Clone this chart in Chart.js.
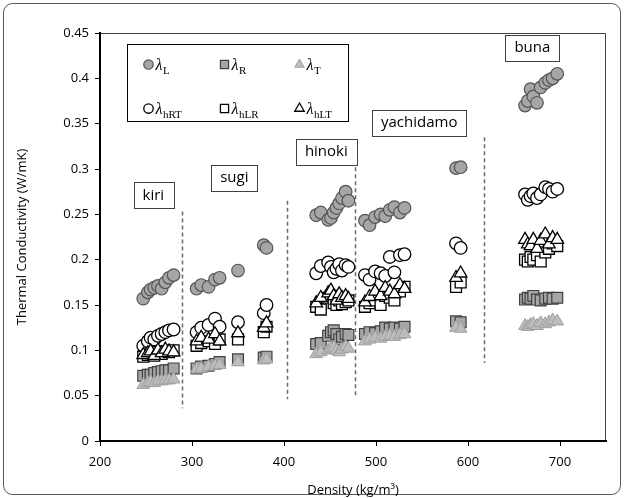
<!DOCTYPE html>
<html>
<head>
<meta charset="utf-8">
<script src="https://cdn.jsdelivr.net/npm/chart.js@4"></script>
<style>
  html, body { margin: 0; padding: 0; background: #fff; }
  canvas { display: block; }
</style>
</head>
<body>
<canvas id="c" width="624" height="498"></canvas>
<script>
// ---------- data (densities shared by each specimen) ----------
// order of specimens: kiri(9), sugi(8), hinoki(10), yachidamo(11), buna(10)
const density = [
  247, 252, 255, 259, 263, 267, 271, 275, 280,
  305, 310, 318, 325, 330, 350, 378, 381,
  435, 440, 448, 451, 454, 457, 460, 463, 467, 470,
  488, 493, 499, 505, 510, 515, 520, 526, 531, 587, 592,
  662, 665, 668, 671, 675, 679, 684, 688, 692, 697
];
const lambdaL = [
  0.157, 0.164, 0.167, 0.169, 0.171, 0.168, 0.175, 0.180, 0.183,
  0.168, 0.172, 0.170, 0.178, 0.180, 0.188, 0.216, 0.213,
  0.249, 0.252, 0.244, 0.246, 0.252, 0.257, 0.262, 0.268, 0.275, 0.265,
  0.243, 0.238, 0.247, 0.250, 0.248, 0.255, 0.258, 0.252, 0.257, 0.301, 0.302,
  0.370, 0.375, 0.388, 0.380, 0.373, 0.390, 0.395, 0.398, 0.400, 0.405
];
const lambdaR = [
  0.072, 0.073, 0.073, 0.075, 0.076, 0.077, 0.078, 0.078, 0.080,
  0.080, 0.082, 0.083, 0.085, 0.087, 0.090, 0.092, 0.093,
  0.107, 0.108, 0.116, 0.120, 0.122, 0.118, 0.112, 0.115, 0.118, 0.117,
  0.118, 0.120, 0.119, 0.121, 0.125, 0.124, 0.125, 0.124, 0.126, 0.132, 0.131,
  0.156, 0.158, 0.157, 0.160, 0.156, 0.155, 0.157, 0.158, 0.157, 0.158
];
const lambdaT = [
  0.062, 0.064, 0.065, 0.064, 0.066, 0.066, 0.067, 0.067, 0.068,
  0.079, 0.080, 0.082, 0.083, 0.084, 0.087, 0.089, 0.090,
  0.096, 0.098, 0.100, 0.102, 0.103, 0.100, 0.098, 0.101, 0.104, 0.102,
  0.110, 0.112, 0.114, 0.113, 0.115, 0.116, 0.115, 0.117, 0.118, 0.125, 0.124,
  0.127, 0.126, 0.128, 0.129, 0.127, 0.130, 0.129, 0.131, 0.133, 0.132
];
const lambdaHRT = [
  0.105, 0.110, 0.114, 0.112, 0.116, 0.118, 0.120, 0.122, 0.123,
  0.120, 0.125, 0.128, 0.135, 0.126, 0.131, 0.141, 0.150,
  0.185, 0.193, 0.197, 0.192, 0.186, 0.190, 0.195, 0.188, 0.194, 0.192,
  0.183, 0.178, 0.187, 0.185, 0.182, 0.203, 0.186, 0.205, 0.206, 0.218, 0.213,
  0.272, 0.266, 0.270, 0.273, 0.268, 0.272, 0.280, 0.278, 0.275, 0.278
];
const lambdaHLR = [
  0.093, 0.095, 0.097, 0.094, 0.098, 0.096, 0.099, 0.098, 0.100,
  0.105, 0.108, 0.110, 0.107, 0.112, 0.112, 0.120, 0.126,
  0.148, 0.145, 0.158, 0.160, 0.152, 0.150, 0.155, 0.151, 0.153, 0.155,
  0.148, 0.152, 0.155, 0.150, 0.160, 0.158, 0.155, 0.165, 0.170, 0.170, 0.175,
  0.200, 0.198, 0.203, 0.200, 0.205, 0.198, 0.208, 0.212, 0.218, 0.215
];
const lambdaHLT = [
  0.095, 0.097, 0.099, 0.094, 0.100, 0.097, 0.101, 0.099, 0.098,
  0.110, 0.114, 0.112, 0.118, 0.110, 0.119, 0.125, 0.130,
  0.152, 0.158, 0.163, 0.166, 0.160, 0.155, 0.162, 0.158, 0.160, 0.157,
  0.153, 0.159, 0.165, 0.160, 0.169, 0.165, 0.162, 0.172, 0.168, 0.180, 0.185,
  0.222, 0.217, 0.215, 0.222, 0.212, 0.221, 0.228, 0.217, 0.224, 0.222
];
const seriesSubscripts = ['L', 'R', 'T', 'hRT', 'hLR', 'hLT'];

const xTicks = [200, 300, 400, 500, 600, 700];
const yTicks = [0, 0.05, 0.1, 0.15, 0.2, 0.25, 0.3, 0.35, 0.4, 0.45];
const yTickLabels = ['0', '0.05', '0.1', '0.15', '0.2', '0.25', '0.3', '0.35', '0.4', '0.45'];

const woodNames = ['kiri', 'sugi', 'hinoki', 'yachidamo', 'buna'];
const woodLabelDensity = [258, 346, 446, 547, 670];
const woodLabelValue = [0.271, 0.290, 0.319, 0.351, 0.434];
const dividerDensity = [289, 403, 477, 617];
const dividerTop = [0.253, 0.265, 0.325, 0.335];
const dividerBottom = [0.036, 0.046, 0.049, 0.086];

// ---------- styles ----------
const seriesValues = [lambdaL, lambdaR, lambdaT, lambdaHRT, lambdaHLR, lambdaHLT];
const styles = [
  { shape: 'circle',   r: 6.3, fill: '#a6a6a6', stroke: '#555555', lw: 1.2 },
  { shape: 'rect',     r: 7.7, fill: '#a6a6a6', stroke: '#404040', lw: 1.2 },
  { shape: 'triangle', r: 7.3, fill: '#bdbdbd', stroke: '#a0a0a0', lw: 1.0 },
  { shape: 'circle',   r: 6.3, fill: '#ffffff', stroke: '#000000', lw: 1.3 },
  { shape: 'rect',     r: 7.7, fill: '#ffffff', stroke: '#000000', lw: 1.3 },
  { shape: 'triangle', r: 7.3, fill: '#ffffff', stroke: '#000000', lw: 1.3 }
];

const datasets = seriesValues.map((vals, i) => ({
  label: 'λ' + seriesSubscripts[i],
  data: vals.map((v, k) => ({ x: density[k], y: v })),
  pointStyle: styles[i].shape,
  pointRadius: styles[i].r,
  pointBackgroundColor: styles[i].fill,
  pointBorderColor: styles[i].stroke,
  pointBorderWidth: styles[i].lw,
  showLine: false,
  order: 10 - i
}));

const FONT = '"Open Sans", "Noto Sans", sans-serif';

function drawMarker(ctx, shape, x, y, r, fill, stroke, lw) {
  ctx.save();
  ctx.beginPath();
  if (shape === 'circle') {
    ctx.arc(x, y, r, 0, Math.PI * 2);
  } else if (shape === 'rect') {
    const s = r / Math.SQRT2;
    ctx.rect(x - s, y - s, 2 * s, 2 * s);
  } else {
    const h = r;
    ctx.moveTo(x, y - h);
    ctx.lineTo(x + h * Math.sin(Math.PI * 2 / 3), y - h * Math.cos(Math.PI * 2 / 3));
    ctx.lineTo(x + h * Math.sin(Math.PI * 4 / 3), y - h * Math.cos(Math.PI * 4 / 3));
    ctx.closePath();
  }
  ctx.fillStyle = fill; ctx.fill();
  ctx.lineWidth = lw; ctx.strokeStyle = stroke; ctx.stroke();
  ctx.restore();
}

const decor = {
  id: 'decor',
  beforeDraw(chart) {
    const ctx = chart.ctx;
    ctx.save();
    ctx.fillStyle = '#fff';
    ctx.fillRect(0, 0, chart.width, chart.height);
    ctx.beginPath();
    ctx.roundRect(3.5, 3.5, chart.width - 7, chart.height - 7, 9);
    ctx.strokeStyle = '#595959';
    ctx.lineWidth = 1;
    ctx.stroke();
    const a = chart.chartArea;
    ctx.beginPath();
    ctx.moveTo(a.left, a.top + 0.5);
    ctx.lineTo(a.right - 0.5, a.top + 0.5);
    ctx.lineTo(a.right - 0.5, a.bottom);
    ctx.strokeStyle = '#404040';
    ctx.lineWidth = 1;
    ctx.stroke();
    ctx.restore();
  },
  beforeDatasetsDraw(chart) {
    const ctx = chart.ctx, xs = chart.scales.x, ys = chart.scales.y;
    ctx.save();
    ctx.setLineDash([4, 3]);
    ctx.strokeStyle = '#6a6a6a';
    ctx.lineWidth = 1.5;
    dividerDensity.forEach((d, i) => {
      const x = Math.round(xs.getPixelForValue(d)) + 0.5;
      ctx.beginPath();
      ctx.moveTo(x, ys.getPixelForValue(dividerTop[i]));
      ctx.lineTo(x, ys.getPixelForValue(dividerBottom[i]));
      ctx.stroke();
    });
    ctx.restore();
  },
  afterDatasetsDraw(chart) {
    const ctx = chart.ctx, xs = chart.scales.x, ys = chart.scales.y, a = chart.chartArea;
    ctx.save();
    ctx.font = '15px ' + FONT;
    ctx.textAlign = 'center';
    ctx.textBaseline = 'middle';
    woodNames.forEach((name, i) => {
      const cx = xs.getPixelForValue(woodLabelDensity[i]);
      const cy = ys.getPixelForValue(woodLabelValue[i]);
      const w = ctx.measureText(name).width + 18;
      const h = 26;
      const x0 = Math.round(cx - w / 2) + 0.5, y0 = Math.round(cy - h / 2) + 0.5;
      ctx.fillStyle = '#fff';
      ctx.fillRect(x0, y0, Math.round(w), h);
      ctx.strokeStyle = '#404040';
      ctx.lineWidth = 1;
      ctx.strokeRect(x0, y0, Math.round(w), h);
      ctx.fillStyle = '#000';
      ctx.fillText(name, cx, cy);
    });
    const lx = a.left + 27.5, ly = a.top + 11.5, lw = 221, lh = 77;
    ctx.fillStyle = '#fff';
    ctx.fillRect(lx, ly, lw, lh);
    ctx.strokeStyle = '#000';
    ctx.lineWidth = 1;
    ctx.strokeRect(lx, ly, lw, lh);
    const colX = [lx + 21, lx + 97, lx + 172];
    const rowY = [ly + 20, ly + 64];
    for (let i = 0; i < 6; i++) {
      const c = i % 3, r = Math.floor(i / 3);
      const st = styles[i];
      drawMarker(ctx, st.shape, colX[c], rowY[r], st.r * 0.75, st.fill, st.stroke, st.lw);
      const tx = colX[c] + 7;
      ctx.fillStyle = '#000';
      ctx.textAlign = 'left';
      ctx.textBaseline = 'alphabetic';
      ctx.font = 'italic 16px "Liberation Serif", serif';
      ctx.fillText('λ', tx, rowY[r] + 5);
      const lamW = ctx.measureText('λ').width;
      ctx.font = '11px "Liberation Serif", serif';
      ctx.fillText(seriesSubscripts[i], tx + lamW + 0.5, rowY[r] + 9);
    }
    ctx.restore();
  }
};

new Chart(document.getElementById('c'), {
  type: 'scatter',
  data: { datasets },
  plugins: [decor],
  options: {
    responsive: false,
    animation: false,
    events: [],
    layout: { padding: { top: 33, right: 18, left: 0, bottom: 0 } },
    plugins: { legend: { display: false }, tooltip: { enabled: false } },
    scales: {
      x: {
        type: 'linear', min: 200, max: 750,
        afterBuildTicks: s => { s.ticks = xTicks.map(v => ({ value: v })); },
        afterFit: s => { s.height = 57; },
        grid: { drawOnChartArea: false, drawTicks: true, tickLength: 5, color: '#000' },
        border: { color: '#000', width: 2 },
        ticks: { font: { family: FONT, size: 13 }, color: '#000', padding: 8, maxRotation: 0 },
        title: { display: true, text: 'Density (kg/m³)', font: { family: FONT, size: 13 }, color: '#000', padding: { top: 3, bottom: 0 } }
      },
      y: {
        type: 'linear', min: 0, max: 0.45,
        afterBuildTicks: s => { s.ticks = yTicks.map(v => ({ value: v })); },
        afterFit: s => { s.width = 100; },
        grid: { drawOnChartArea: false, drawTicks: true, tickLength: 5, color: '#000' },
        border: { color: '#000', width: 2 },
        ticks: {
          font: { family: FONT, size: 13 }, color: '#000', padding: 6,
          callback: (v) => { const k = yTicks.findIndex(t => Math.abs(t - v) < 1e-9); return k >= 0 ? yTickLabels[k] : ''; }
        },
        title: { display: true, text: 'Thermal Conductivity (W/mK)', font: { family: FONT, size: 13 }, color: '#000', padding: { top: 14, bottom: 0 } }
      }
    }
  }
});
</script>
</body>
</html>
